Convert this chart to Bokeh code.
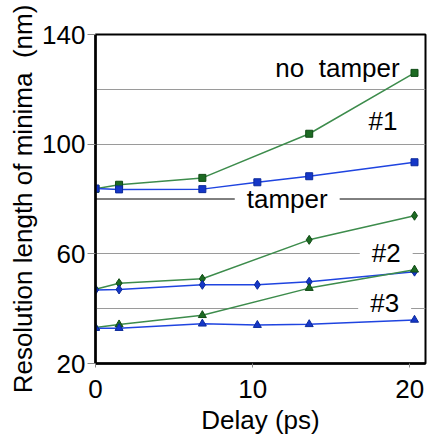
from bokeh.plotting import figure
from bokeh.models import Range1d, FixedTicker, Span, Label
from bokeh.embed import file_html
from bokeh.resources import INLINE

# Delay (ps)
delay_green = [0, 1.5, 6.8, 13.6, 20.3]
delay_blue = [0, 1.5, 6.8, 10.3, 13.6, 20.3]

# no tamper (green)
g1 = [83.7, 85.2, 87.7, 103.8, 126.0]
g2 = [47.1, 49.3, 50.9, 65.1, 73.9]
g3 = [33.1, 34.2, 37.6, 47.5, 54.2]

# tamper (blue)
b1 = [83.8, 83.5, 83.6, 86.1, 88.3, 93.4]
b2 = [46.8, 47.0, 48.7, 48.7, 49.8, 53.5]
b3 = [32.9, 32.9, 34.5, 34.0, 34.3, 35.9]

x_ticks = [0, 10, 20]
y_ticks = [20, 60, 100, 140]
y_grid = [40, 60, 100, 120]
tamper_level = 80

FONT = "Liberation Sans"
FS = "26px"
GREEN_LINE = "#3d8c4c"
GREEN_MARK = "#1c6a22"
BLUE_LINE = "#1f44e0"
BLUE_MARK = "#1537c8"

p = figure(width=428, height=437, output_backend="svg", toolbar_location=None,
           x_range=Range1d(0, 21.0), y_range=Range1d(20, 140),
           min_border_left=95, min_border_right=3, min_border_top=34, min_border_bottom=74)

p.outline_line_color = "black"
p.outline_line_width = 2
p.background_fill_color = "white"
p.border_fill_color = "white"

p.xgrid.visible = False
p.ygrid.ticker = FixedTicker(ticks=y_grid)
p.ygrid.grid_line_color = "#9a9a9a"
p.ygrid.grid_line_width = 1.2

p.xaxis.ticker = FixedTicker(ticks=x_ticks)
p.yaxis.ticker = FixedTicker(ticks=y_ticks)
for ax in (p.xaxis[0], p.yaxis[0]):
    ax.axis_line_color = "black"
    ax.axis_line_width = 2.5
    ax.major_tick_line_color = "#888888"
    ax.minor_tick_line_color = None
    ax.major_tick_in = 0
    ax.major_label_text_font = FONT
    ax.major_label_text_font_size = FS
    ax.major_label_text_color = "black"
    ax.axis_label_text_font = FONT
    ax.axis_label_text_font_size = FS
    ax.axis_label_text_font_style = "normal"
    ax.axis_label_text_color = "black"

p.xaxis.major_tick_out = 4
p.xaxis.major_label_standoff = 12
p.xaxis.axis_label = "Delay (ps)"
p.xaxis.axis_label_standoff = 4

p.yaxis.major_tick_out = 8
p.yaxis.major_label_standoff = 2
p.yaxis.axis_label = "Resolution length of minima\u00a0\u00a0(nm)"
p.yaxis.axis_label_standoff = 1

# tamper line
p.add_layout(Span(location=tamper_level, dimension="width", line_color="black",
                  line_width=1, level="underlay"))

# annotation labels (white background hides gridline beneath)
def lab(x, y, text, bg=False):
    kw = dict(x=x, y=y, text=text, text_font=FONT, text_font_size=FS,
              text_align="center", text_baseline="middle", text_color="black",
              level="underlay")
    if bg:
        kw.update(background_fill_color="white", padding=(12, 12, 0, 0))
    p.add_layout(Label(**kw))

lab(15.4, 127.6, "no\u00a0\u00a0tamper")
lab(18.3, 108.5, "#1")
lab(12.2, 80.0, "tamper", bg=True)
lab(18.5, 60.3, "#2", bg=True)
lab(18.4, 42.2, "#3", bg=True)

# series
p.line(delay_green, g1, line_color=GREEN_LINE, line_width=1.5)
p.scatter(delay_green, g1, marker="square", size=7, fill_color=GREEN_MARK, line_color="#0f4a14")
p.line(delay_blue, b1, line_color=BLUE_LINE, line_width=1.5)
p.scatter(delay_blue, b1, marker="square", size=7, fill_color=BLUE_MARK, line_color="#0c2a9a")

p.line(delay_green, g2, line_color=GREEN_LINE, line_width=1.5)
p.scatter(delay_green, g2, marker="diamond", size=9, fill_color=GREEN_MARK, line_color="#0f4a14")
p.line(delay_blue, b2, line_color=BLUE_LINE, line_width=1.5)
p.scatter(delay_blue, b2, marker="diamond", size=9, fill_color=BLUE_MARK, line_color="#0c2a9a")

p.line(delay_green, g3, line_color=GREEN_LINE, line_width=1.5)
p.scatter(delay_green, g3, marker="triangle", size=8, fill_color=GREEN_MARK, line_color="#0f4a14")
p.line(delay_blue, b3, line_color=BLUE_LINE, line_width=1.5)
p.scatter(delay_blue, b3, marker="triangle", size=8, fill_color=BLUE_MARK, line_color="#0c2a9a")

open("out.html", "w").write(file_html(p, INLINE))
